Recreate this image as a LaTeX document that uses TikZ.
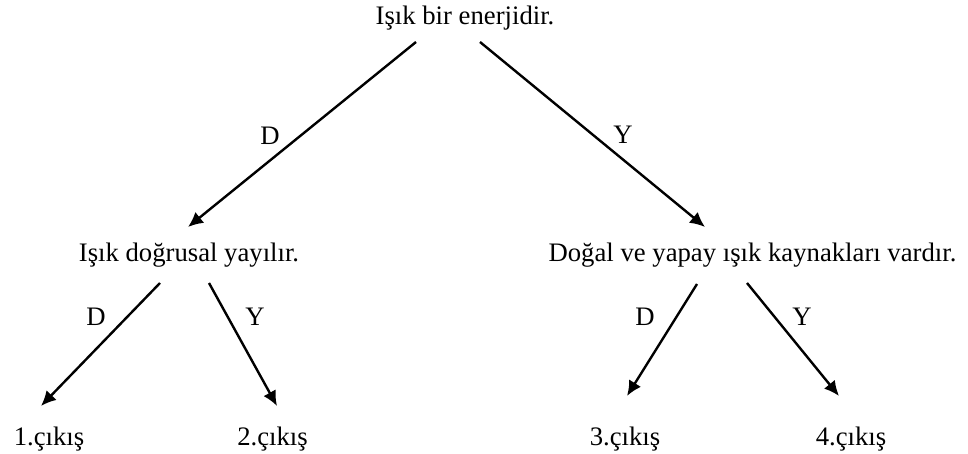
\documentclass[tikz,border=0pt]{standalone}
\usepackage{fontspec}
\setmainfont{Liberation Serif}
\usetikzlibrary{arrows.meta}

\begin{document}
\begin{tikzpicture}[x=0.5pt,y=-0.5pt,
    txt/.style={anchor=base,inner sep=0pt,font=\fontsize{13.35}{16}\selectfont},
    arr/.style={line width=1.2pt,-{Latex[length=7.5pt,width=7pt]}}]
    \useasboundingbox (0,0) rectangle (968,454);

    % Statements
    \node[txt] (root) at (465,25) {Işık bir enerjidir.};
    \node[txt] (left) at (189,262) {Işık doğrusal yayılır.};
    \node[txt] (right) at (752.5,262) {Doğal ve yapay ışık kaynakları vardır.};

    % Exits
    \node[txt] (out1) at (49,445) {1.çıkış};
    \node[txt] (out2) at (272.5,445) {2.çıkış};
    \node[txt] (out3) at (625,445) {3.çıkış};
    \node[txt] (out4) at (851,445) {4.çıkış};

    % Arrow ends
    \coordinate (rootD) at (416,42);
    \coordinate (rootY) at (480,42);
    \coordinate (leftD) at (160,283);
    \coordinate (leftY) at (209,283);
    \coordinate (rightD) at (697,284);
    \coordinate (rightY) at (747,283);
    \coordinate (leftTip) at (188,227);
    \coordinate (rightTip) at (705,227);
    \coordinate (tip1) at (41,406);
    \coordinate (tip2) at (277,406);
    \coordinate (tip3) at (627,396);
    \coordinate (tip4) at (839,396);

    % Arrows
    \draw[arr] (rootD) -- (leftTip);
    \draw[arr] (rootY) -- (rightTip);
    \draw[arr] (leftD) -- (tip1);
    \draw[arr] (leftY) -- (tip2);
    \draw[arr] (rightD) -- (tip3);
    \draw[arr] (rightY) -- (tip4);

    % Answers
    \node[txt] (d0) at (270,145) {D};
    \node[txt] (y0) at (623,144) {Y};
    \node[txt] (d1) at (96,325) {D};
    \node[txt] (y1) at (255,325) {Y};
    \node[txt] (d2) at (645,325) {D};
    \node[txt] (y2) at (802,325) {Y};
\end{tikzpicture}
\end{document}
